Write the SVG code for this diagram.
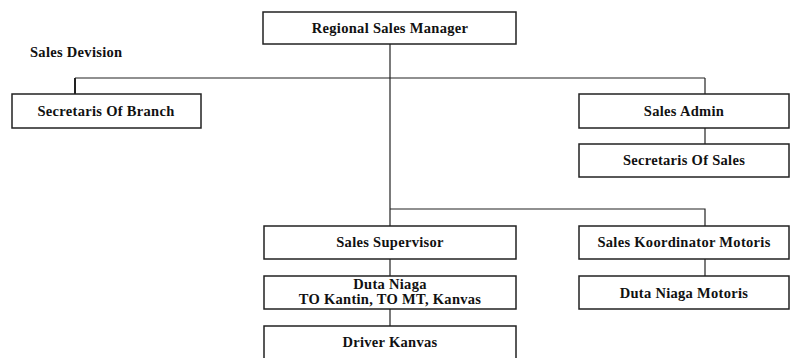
<svg xmlns="http://www.w3.org/2000/svg" width="792" height="358" viewBox="0 0 792 358">
<style>
.box{fill:#fff;stroke:#222;stroke-width:1.5}
.t{font-family:"Liberation Serif","Times New Roman",serif;font-weight:bold;font-size:14.5px;letter-spacing:0.3px;fill:#111;text-anchor:middle}
.c{stroke:#222;stroke-width:1.2;fill:none}
</style>
<rect width="792" height="358" fill="#fff"/>
<text class="t" x="30" y="57" style="text-anchor:start">Sales Devision</text>
<g id="connectors">
<path class="c" d="M390 44V226"/>
<path class="c" d="M75 78H705"/>
<path class="c" d="M75 78V94" style="stroke-width:2"/>
<path class="c" d="M705 78V94"/>
<path class="c" d="M705 128V144"/>
<path class="c" d="M390 209H705V226"/>
<path class="c" d="M390 259V276"/>
<path class="c" d="M390 309V326"/>
<path class="c" d="M705 259V276"/>
</g>
<g id="rsm"><rect class="box" x="263" y="12" width="253" height="32"/><text class="t" x="390" y="33">Regional Sales Manager</text></g>
<g id="sob"><rect class="box" x="12" y="94" width="189" height="34"/><text class="t" x="106" y="116">Secretaris Of Branch</text></g>
<g id="sadmin"><rect class="box" x="579" y="94" width="210" height="34"/><text class="t" x="684" y="116">Sales Admin</text></g>
<g id="sos"><rect class="box" x="579" y="144" width="210" height="33"/><text class="t" x="684" y="165">Secretaris Of Sales</text></g>
<g id="ss"><rect class="box" x="264" y="226" width="252" height="33"/><text class="t" x="390" y="247">Sales Supervisor</text></g>
<g id="skm"><rect class="box" x="579" y="226" width="210" height="33"/><text class="t" x="684" y="247">Sales Koordinator Motoris</text></g>
<g id="dn"><rect class="box" x="264" y="276" width="252" height="33"/><text class="t" x="390" y="289">Duta Niaga</text><text class="t" x="390" y="304">TO Kantin, TO MT, Kanvas</text></g>
<g id="dnm"><rect class="box" x="579" y="276" width="210" height="33"/><text class="t" x="684" y="298">Duta Niaga Motoris</text></g>
<g id="dk"><rect class="box" x="264" y="326" width="252" height="40"/><text class="t" x="390" y="347">Driver Kanvas</text></g>
</svg>
